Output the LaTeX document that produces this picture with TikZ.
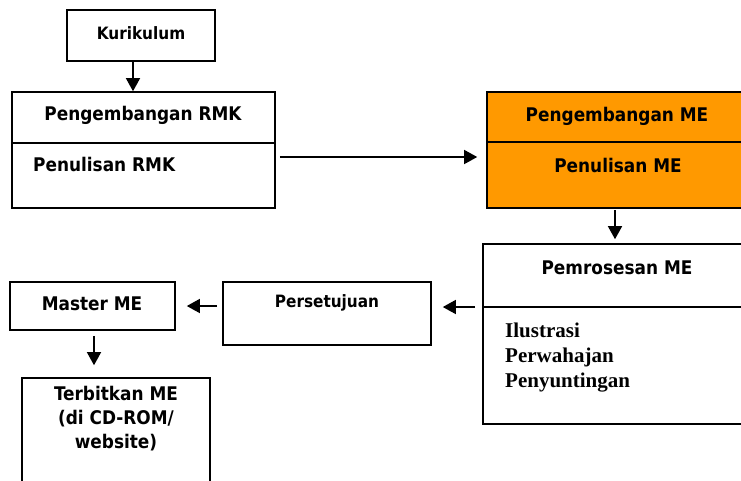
\documentclass[tikz,border=0pt]{standalone}
\usepackage{fontspec}
\setmainfont{DejaVu Sans Condensed}
\newfontfamily\serifbold{Liberation Serif}
\usepackage{xcolor}
\usetikzlibrary{arrows.meta,positioning,calc}
\definecolor{meorange}{RGB}{255,153,0}

\begin{document}
\begin{tikzpicture}[x=1pt, y=-1pt,
        box/.style={rectangle, draw=black, line width=1.6pt, inner sep=0pt},
        lbl/.style={font=\bfseries\fontsize{18.8}{24}\selectfont, inner sep=0pt},
        small/.style={font=\bfseries\fontsize{17}{20}\selectfont, inner sep=0pt},
        item/.style={font=\serifbold\bfseries\fontsize{21}{25}\selectfont, inner sep=0pt, anchor=base west},
        arrow/.style={-{Triangle[length=13pt,width=14pt]}, line width=1.4pt}
    ]
        \useasboundingbox (0,0) rectangle (741,480);
        \clip (0,0) rectangle (741,480);

        % boxes
        \node[box, minimum width=148pt, minimum height=51pt] (kur) at (141,35.5) {};
        \node[box, minimum width=263pt, minimum height=116pt] (rmk) at (143.5,150) {};
        \node[box, fill=meorange, minimum width=283pt, minimum height=116pt] (me) at (628.5,150) {};
        \node[box, minimum width=287pt, minimum height=180pt] (proc) at (626.5,334) {};
        \node[box, minimum width=208pt, minimum height=63pt] (setuju) at (327,313.5) {};
        \node[box, minimum width=165pt, minimum height=48pt] (master) at (92.5,306) {};
        \node[box, minimum width=188pt, minimum height=122pt] (terbit) at (116,439) {};

        % dividers
        \draw[line width=1.2pt] (rmk.west |- 0,143) -- (rmk.east |- 0,143);
        \draw[line width=1.2pt] (me.west |- 0,142) -- (me.east |- 0,142);
        \draw[line width=1.2pt] (proc.west |- 0,307) -- (proc.east |- 0,307);

        % texts
        \node[small] (kurt) at (141,33) {Kurikulum};
        \node[lbl] (rmkt) at (143,115) {Pengembangan RMK};
        \node[lbl, anchor=west] (rmkw) at (33,164) {Penulisan RMK};
        \node[lbl] (met) at (617,116) {Pengembangan ME};
        \node[lbl] (mew) at (618,165) {Penulisan ME};
        \node[lbl] (proct) at (617,268) {Pemrosesan ME};
        \node[item] (ilus) at (505,337) {Ilustrasi};
        \node[item] (wajah) at (505,362) {Perwahajan};
        \node[item] (sunting) at (505,387) {Penyuntingan};
        \node[small] (setujut) at (327,303) {Persetujuan};
        \node[lbl] (mastert) at (92,304) {Master ME};
        \node[lbl, align=center] (terbitt) at (116,419)
              {Terbitkan ME\\(di CD-ROM/\\website)};

        % connectors
        \draw[arrow] ([xshift=-8pt]kur.south) -- ([xshift=-8pt]kur.south |- rmk.north);
        \draw[arrow, shorten <=4pt, shorten >=9pt] ([yshift=-7pt]rmk.east) -- ([yshift=-7pt]rmk.east -| me.west);
        \draw[arrow, shorten <=2pt, shorten >=4pt] (615,208) -- (proc.north -| 615,0);
        \draw[arrow, shorten <=7pt, shorten >=11pt] (proc.west |- 0,307) -- (setuju.east |- 0,307);
        \draw[arrow, shorten <=5pt, shorten >=11pt] (setuju.west |- 0,306) -- (master.east |- 0,306);
        \draw[arrow, shorten <=5pt, shorten >=12pt] (master.south -| 94,0) -- (terbit.north -| 94,0);
    \end{tikzpicture}
\end{document}
